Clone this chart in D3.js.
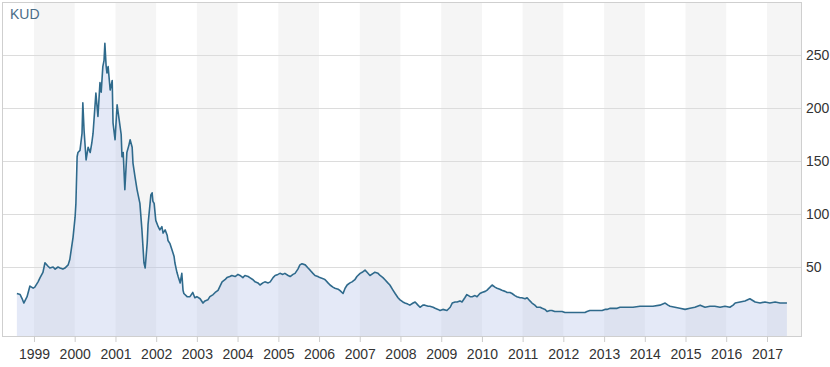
<!DOCTYPE html>
<meta charset="utf-8">
<style>
  body { margin: 0; background: #fff; }
  text { font-family: Arial, "Liberation Sans", sans-serif; }
</style>

<!-- Load d3.js -->
<script src="https://d3js.org/d3.v7.min.js"></script>

<div id="my_dataviz"></div>

<script>

// ticker shown in the top-left corner
var seriesName = "KUD"

// decimal years of each reading
var years = [1998.58,1998.66,1998.71,1998.75,1998.83,1998.90,1998.98,
  1999.02,1999.10,1999.15,1999.22,1999.27,1999.34,1999.39,1999.47,1999.52,1999.59,1999.64,1999.71,1999.76,1999.84,1999.88,1999.96,
  2000.01,2000.03,2000.06,2000.08,2000.13,2000.18,2000.20,2000.23,2000.28,2000.33,2000.38,2000.42,2000.45,2000.52,2000.57,2000.62,2000.65,2000.69,2000.72,2000.74,2000.77,2000.79,2000.82,2000.87,2000.92,2000.94,2000.99,
  2001.04,2001.09,2001.14,2001.16,2001.19,2001.23,2001.28,2001.33,2001.36,2001.41,2001.43,2001.48,2001.53,2001.60,2001.65,2001.70,2001.73,2001.78,2001.80,2001.85,2001.87,2001.90,2001.92,2001.95,
  2001.99,2002.05,2002.09,2002.14,2002.17,2002.22,2002.27,2002.29,2002.34,2002.39,2002.44,2002.46,2002.51,2002.54,2002.59,2002.63,2002.66,2002.68,2002.76,2002.83,2002.90,2002.95,
  2003.00,2003.08,2003.15,2003.20,2003.27,2003.32,2003.40,2003.45,2003.52,2003.57,2003.62,2003.69,2003.74,2003.81,2003.86,2003.94,
  2004.01,2004.06,2004.13,2004.18,2004.26,2004.30,2004.38,2004.43,2004.50,2004.55,2004.62,2004.67,2004.75,2004.80,2004.87,2004.92,
  2004.99,2005.04,2005.11,2005.16,2005.24,2005.29,2005.36,2005.41,2005.48,2005.53,2005.58,2005.66,2005.73,2005.78,2005.85,2005.90,2005.97,
  2006.02,2006.10,2006.15,2006.22,2006.27,2006.34,2006.39,2006.47,2006.51,2006.59,2006.64,2006.69,2006.76,2006.81,2006.88,2006.93,
  2007.01,2007.06,2007.13,2007.18,2007.25,2007.33,2007.37,2007.45,2007.50,2007.57,2007.62,2007.69,2007.74,2007.82,2007.87,2007.94,
  2007.99,2008.06,2008.11,2008.18,2008.23,2008.31,2008.36,2008.43,2008.48,2008.55,2008.60,2008.68,2008.72,2008.80,2008.85,2008.92,2008.97,
  2009.04,2009.14,2009.22,2009.27,2009.34,2009.39,2009.46,2009.51,2009.58,2009.63,2009.71,2009.76,2009.83,2009.88,2009.95,
  2010.00,2010.08,2010.12,2010.20,2010.25,2010.32,2010.37,2010.44,2010.49,2010.57,2010.62,2010.69,2010.74,2010.81,2010.86,2010.94,
  2010.98,2011.06,2011.11,2011.18,2011.23,2011.30,2011.35,2011.43,2011.48,2011.55,2011.60,2011.67,2011.72,2011.79,2011.84,2011.92,2011.97,
  2012.04,2012.09,2012.21,2012.33,2012.46,2012.53,2012.58,2012.65,2012.70,2012.83,2012.90,2012.95,
  2013.02,2013.07,2013.15,2013.22,2013.32,2013.39,2013.56,2013.71,2013.88,
  2014.05,2014.20,2014.37,2014.50,2014.57,2014.62,2014.74,2014.86,2014.99,
  2015.11,2015.23,2015.36,2015.48,2015.60,2015.72,2015.85,2015.97,
  2016.09,2016.17,2016.22,2016.34,2016.46,2016.58,2016.71,2016.83,2016.95,
  2017.07,2017.20,2017.32,2017.49]

// price at each of those dates
var values = [25,24,20,16,22,32,30,
  31,36,40,45,54,51,49,50,48,50,49,48,49,52,57,78,
  97,110,154,158,160,176,205,179,151,163,158,167,176,214,192,224,215,239,245,261,240,233,239,217,226,186,170,
  203,189,175,154,158,123,158,165,170,163,148,135,123,110,85,54,49,73,90,110,118,120,112,110,
  94,88,85,88,82,85,80,75,72,66,60,54,45,41,35,44,28,25,22,22,26,21,
  22,20,16,18,19,22,24,26,28,32,36,38,40,41,42,41,
  43,42,40,42,41,40,38,36,35,33,35,36,35,36,40,42,
  43,44,43,44,42,41,43,44,48,52,53,52,49,47,44,42,41,
  40,39,38,35,33,31,30,29,28,25,30,33,35,36,38,41,
  44,45,47,45,42,44,45,44,42,40,38,35,33,28,25,21,
  19,17,16,15,14,16,17,14,12,14,14,13,13,12,11,10,9,
  10,9,12,16,17,17,18,17,21,24,22,22,23,22,25,
  26,27,28,31,33,31,30,29,28,27,26,26,25,23,22,21,
  21,20,21,18,16,14,12,12,11,10,8,9,9,8,8,8,8,
  7,7,7,7,7,7,8,9,9,9,9,9,
  10,10,11,11,11,12,12,12,13,
  13,13,14,16,14,13,12,11,10,
  11,12,14,12,13,13,12,13,
  12,14,16,17,18,20,17,16,17,
  16,17,16,16]

// axis labels
var yearLabels = [1999,2000,2001,2002,2003,2004,2005,2006,2007,2008,2009,2010,2011,2012,2013,2014,2015,2016,2017]
var yTicks = [50,100,150,200,250]

// decimal year -> Date
function toDate(t) {
  var y = Math.floor(t)
  var a = new Date(y, 0, 1), b = new Date(y + 1, 0, 1)
  return new Date(+a + (t - y) * (b - a))
}

var data = years.map(function(t, i) { return {date: toDate(t), value: values[i]} })

// set the dimensions and margins of the graph
var margin = {top: 2, right: 28, bottom: 31, left: 2},
    width = 830 - margin.left - margin.right,
    height = 367 - margin.top - margin.bottom;

var svg = d3.select("#my_dataviz")
  .append("svg")
    .attr("width", 830)
    .attr("height", 367)
  .append("g")
    .attr("transform", "translate(" + margin.left + "," + margin.top + ")");

// scales
var x = d3.scaleTime()
  .domain([toDate(1998.214), toDate(2017.86)])
  .range([0, width]);

var y = d3.scaleLinear()
  .domain([-15.1, 300])
  .range([height, 0]);

// alternating year bands
svg.append("g")
  .selectAll("rect")
  .data(yearLabels.filter(function(d) { return d % 2 == 1 }))
  .enter()
  .append("rect")
    .attr("x", function(d) { return x(toDate(d)) })
    .attr("y", 0)
    .attr("width", function(d) { return Math.min(x(toDate(d + 1)), width) - x(toDate(d)) })
    .attr("height", height)
    .style("fill", "#f5f5f5")

// horizontal grid
svg.append("g")
  .selectAll("line")
  .data(yTicks)
  .enter()
  .append("line")
    .attr("x1", 0)
    .attr("x2", width)
    .attr("y1", function(d) { return Math.round(y(d)) + 0.5 })
    .attr("y2", function(d) { return Math.round(y(d)) + 0.5 })
    .style("stroke", "#dcdcdc")

// area + line
svg.append("path")
  .datum(data)
  .attr("d", d3.area()
    .x(function(d) { return x(d.date) })
    .y0(height)
    .y1(function(d) { return y(d.value) }))
  .style("fill", "rgba(180,194,232,0.36)")

svg.append("path")
  .datum(data)
  .attr("d", d3.line()
    .x(function(d) { return x(d.date) })
    .y(function(d) { return y(d.value) }))
  .style("fill", "none")
  .style("stroke", "#2f6a8c")
  .style("stroke-width", 1.6)
  .style("stroke-linejoin", "round")

// frame
svg.append("rect")
  .attr("x", 0.5)
  .attr("y", 0.5)
  .attr("width", width - 1)
  .attr("height", height)
  .style("fill", "none")
  .style("stroke", "#cfcfcf")

// X axis
var xAxis = svg.append("g")
  .attr("transform", "translate(0," + height + ")")
  .call(d3.axisBottom(x)
    .tickValues(yearLabels.map(function(d) { return toDate(d) }))
    .tickFormat(d3.timeFormat("%Y"))
    .tickSize(6)
    .tickPadding(7))
xAxis.select(".domain").remove()
xAxis.selectAll("line").style("stroke", "#cccccc")
xAxis.selectAll("text").style("font-size", "14px").style("fill", "#333")

// Y axis on the right
var yAxis = svg.append("g")
  .attr("transform", "translate(" + width + ",0)")
  .call(d3.axisRight(y)
    .tickValues(yTicks)
    .tickSize(0)
    .tickPadding(4))
yAxis.select(".domain").remove()
yAxis.selectAll("text").style("font-size", "14px").style("fill", "#333")

// series name
svg.append("text")
  .attr("x", 8)
  .attr("y", 17)
  .text(seriesName)
  .style("font-size", "14px")
  .style("fill", "#4a6d88")

</script>
